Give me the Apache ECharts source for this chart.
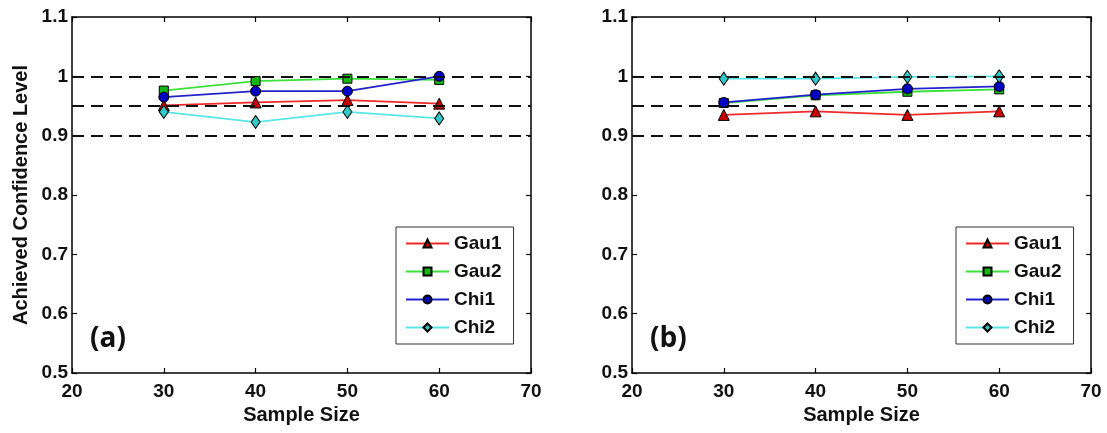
<!DOCTYPE html>
<html>
<head>
<meta charset="utf-8">
<script src="https://cdn.jsdelivr.net/npm/echarts@6/dist/echarts.min.js"></script>
<style>
html,body{margin:0;padding:0;background:#fff;}
#chart{width:1107px;height:433px;}
</style>
</head>
<body>
<div id="chart"></div>
<script>
const sampleSizes = [30, 40, 50, 60];
const seriesNames = ['Gau1', 'Gau2', 'Chi1', 'Chi2'];
// Panel (a)
const aGau1 = [0.951, 0.956, 0.960, 0.954];
const aGau2 = [0.976, 0.992, 0.996, 0.994];
const aChi1 = [0.965, 0.975, 0.975, 1.000];
const aChi2 = [0.940, 0.923, 0.940, 0.929];
// Panel (b)
const bGau1 = [0.935, 0.941, 0.935, 0.941];
const bGau2 = [0.955, 0.968, 0.974, 0.978];
const bChi1 = [0.956, 0.969, 0.979, 0.983];
const bChi2 = [0.996, 0.996, 0.999, 1.000];
const refLevels = [0.9, 0.95, 1.0];
const panelLabels = ['(a)', '(b)'];

const FONT = 'Liberation Sans';
const styles = {
  Gau1: {line: '#ee2a2a', fill: '#c80000', symbol: 'triangle', size: 11},
  Gau2: {line: '#3be03b', fill: '#14b814', symbol: 'rect', size: 9},
  Chi1: {line: '#2323cc', fill: '#0000c0', symbol: 'circle', size: 10},
  Chi2: {line: '#5ae6e6', fill: '#30c8c8', symbol: 'diamond', size: [9, 13]}
};

const grids = [
  {left: 72, top: 17, width: 459, height: 356},
  {left: 632, top: 17, width: 459, height: 356}
];

function xAxes(gi) {
  const base = {
    type: 'value', min: 20, max: 70, interval: 10, gridIndex: gi,
    splitLine: {show: false},
    axisLine: {show: true, onZero: false, lineStyle: {color: '#000', width: 1.5}},
    axisTick: {show: true, inside: true, length: 5, lineStyle: {color: '#000', width: 1.2}}
  };
  return [
    Object.assign({}, base, {
      position: 'bottom',
      axisLabel: {show: true, color: '#111', fontFamily: FONT, fontWeight: 'bold', fontSize: 19, margin: 9},
      name: 'Sample Size', nameLocation: 'middle', nameGap: 30,
      nameTextStyle: {color: '#111', fontFamily: FONT, fontWeight: 'bold', fontSize: 20}
    }),
    Object.assign({}, base, {position: 'top', axisLabel: {show: false}})
  ];
}
function yAxes(gi) {
  const base = {
    type: 'value', min: 0.5, max: 1.1, interval: 0.1, gridIndex: gi,
    splitLine: {show: false},
    axisLine: {show: true, onZero: false, lineStyle: {color: '#000', width: 1.5}},
    axisTick: {show: true, inside: true, length: 5, lineStyle: {color: '#000', width: 1.2}}
  };
  const left = Object.assign({}, base, {
    position: 'left',
    axisLabel: {show: true, color: '#111', fontFamily: FONT, fontWeight: 'bold', fontSize: 19, margin: 4,
      formatter: v => String(+v.toFixed(2))}
  });
  if (gi === 0) {
    Object.assign(left, {
      name: 'Achieved Confidence Level', nameLocation: 'middle', nameGap: 41,
      nameTextStyle: {color: '#111', fontFamily: FONT, fontWeight: 'bold', fontSize: 20}
    });
  }
  return [left, Object.assign({}, base, {position: 'right', axisLabel: {show: false}})];
}

const xAxis = [...xAxes(0), ...xAxes(1)];
const yAxis = [...yAxes(0), ...yAxes(1)];

function makeSeries(name, values, panel) {
  const s = styles[name];
  return {
    name: name, type: 'line',
    xAxisIndex: panel * 2, yAxisIndex: panel * 2,
    data: sampleSizes.map((x, i) => [x, values[i]]),
    symbol: s.symbol, symbolSize: s.size, showSymbol: true,
    lineStyle: {color: s.line, width: 1.8},
    itemStyle: {color: s.fill, borderColor: '#000', borderWidth: 1},
    z: 3, animation: false
  };
}
function refSeries(panel) {
  return {
    name: 'ref' + panel, type: 'line', xAxisIndex: panel * 2, yAxisIndex: panel * 2,
    data: [], silent: true, z: 2, animation: false,
    markLine: {
      silent: true, symbol: 'none', animation: false,
      label: {show: false},
      lineStyle: {color: '#111', type: [12, 7], width: 2},
      data: refLevels.map(v => ({yAxis: v}))
    }
  };
}

const panelData = [
  {Gau1: aGau1, Gau2: aGau2, Chi1: aChi1, Chi2: aChi2},
  {Gau1: bGau1, Gau2: bGau2, Chi1: bChi1, Chi2: bChi2}
];
const series = [];
[0, 1].forEach(p => {
  series.push(refSeries(p));
  seriesNames.forEach(n => series.push(makeSeries(n, panelData[p][n], p)));
});

function legend(left) {
  return {
    orient: 'vertical', left: left, top: 227,
    data: seriesNames,
    itemWidth: 43, itemHeight: 10, itemGap: 9,
    padding: [7, 12, 7, 9],
    borderColor: '#333', borderWidth: 1, backgroundColor: '#fff',
    textStyle: {color: '#111', fontFamily: FONT, fontWeight: 'bold', fontSize: 19, lineHeight: 17},
    selectedMode: false
  };
}

const chart = echarts.init(document.getElementById('chart'), null, {renderer: 'canvas'});
chart.setOption({
  animation: false,
  backgroundColor: '#fff',
  grid: grids,
  xAxis: xAxis,
  yAxis: yAxis,
  legend: [legend(396), legend(956)],
  series: series,
  graphic: [
    {type: 'text', left: 90, top: 325, style: {text: panelLabels[0], fontFamily: 'Open Sans', fontWeight: 'bold', fontSize: 28, fill: '#111'}},
    {type: 'text', left: 650, top: 325, style: {text: panelLabels[1], fontFamily: 'Open Sans', fontWeight: 'bold', fontSize: 28, fill: '#111'}}
  ]
});
</script>
</body>
</html>
